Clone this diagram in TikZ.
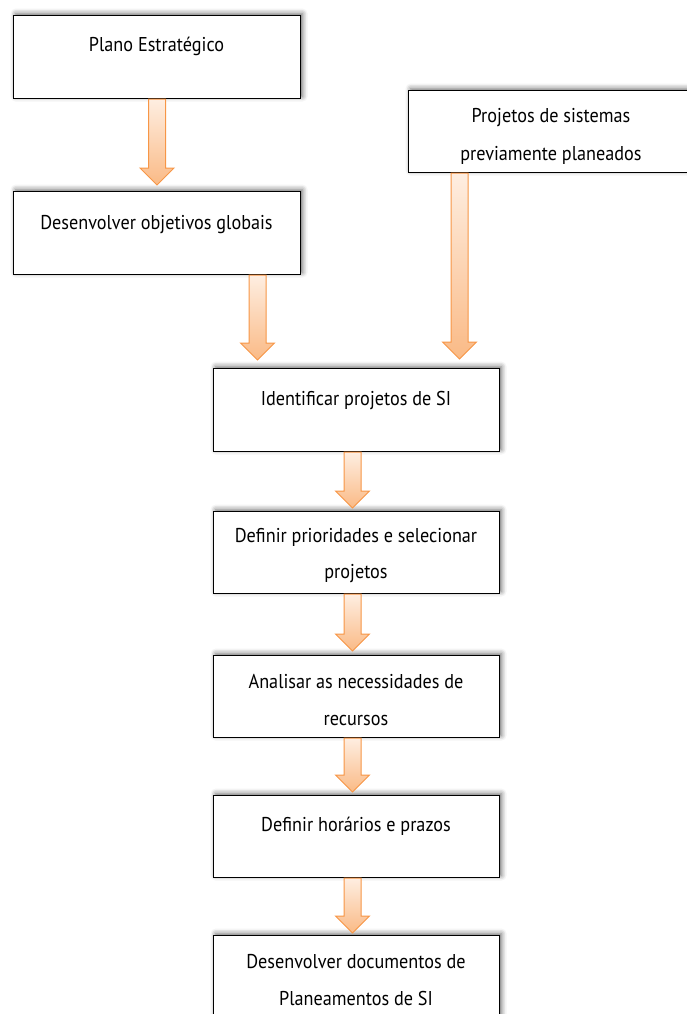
\documentclass[tikz,border=0pt]{standalone}
\usepackage{fontspec}
\setmainfont{PT Sans}[FakeStretch=0.91]
\usetikzlibrary{calc,shadows.blur}

\definecolor{arrowedge}{RGB}{247,150,70}
\definecolor{arrowtop}{RGB}{254,238,225}
\definecolor{arrowbot}{RGB}{250,186,134}

\tikzset{
  stage/.style={draw=black, line width=1.1pt, fill=white, anchor=north west,
    inner sep=0pt, minimum height=83pt,
    blur shadow={shadow xshift=2pt, shadow yshift=2pt,
      shadow blur radius=5pt, shadow opacity=60}},
  caption/.style={anchor=base, inner sep=0pt, font=\fontsize{20}{22}\selectfont},
  flow/.style={draw=arrowedge, line width=1pt, top color=arrowtop,
    bottom color=arrowbot, line join=miter},
}

% block arrow: #1 = x position, #2 = source node, #3 = target node, #4 = gap above target
\newcommand\flowarrow[4]{%
  \coordinate (fa-s) at (#1,0 |- #2.south);
  \coordinate (fa-n) at (#1,0 |- #3.north);
  \coordinate (fa-t) at ($(fa-n)+(0,#4)$);
  \path[flow] ($(fa-s)+(-8.5,0)$) -- ($(fa-s)+(8.5,0)$)
    -- ($(fa-t)+(8.5,17)$) -- ($(fa-t)+(17,17)$) -- (fa-t)
    -- ($(fa-t)+(-17,17)$) -- ($(fa-t)+(-8.5,17)$) -- cycle;
}

\begin{document}
\begin{tikzpicture}[x=1pt, y=1pt]
\useasboundingbox (0,0) rectangle (687,-1014);

% process boxes
\node[stage, minimum width=287pt] (b1) at (13,-15) {};
\node[stage, minimum width=282pt, minimum height=82pt] (b2) at (408,-90) {};
\node[stage, minimum width=287pt] (b3) at (13,-191) {};
\node[stage, minimum width=286pt] (b4) at (213,-368) {};
\node[stage, minimum width=286pt, minimum height=82pt] (b5) at (213,-511) {};
\node[stage, minimum width=286pt, minimum height=82pt] (b6) at (213,-655) {};
\node[stage, minimum width=286pt, minimum height=82pt] (b7) at (213,-795) {};
\node[stage, minimum width=286pt, minimum height=95pt] (b8) at (213,-935) {};

% captions
\node[caption] (t1) at (156.5,-52) {Plano Estratégico};
\node[caption] (t2a) at (551,-123) {Projetos de sistemas};
\node[caption] (t2b) at (551,-160) {previamente planeados};
\node[caption] (t3) at (156.5,-229) {Desenvolver objetivos globais};
\node[caption] (t4) at (356,-405) {Identificar projetos de SI};
\node[caption] (t5a) at (356,-542) {Definir prioridades e selecionar};
\node[caption] (t5b) at (356,-578) {projetos};
\node[caption] (t6a) at (356,-688) {Analisar as necessidades de};
\node[caption] (t6b) at (356,-725) {recursos};
\node[caption] (t7) at (356,-831) {Definir horários e prazos};
\node[caption] (t8a) at (356,-968) {Desenvolver documentos de};
\node[caption] (t8b) at (356,-1005) {Planeamentos de SI};

% flow arrows
\flowarrow{157}{b1}{b3}{6}
\flowarrow{257.5}{b3}{b4}{8}
\flowarrow{459.5}{b2}{b4}{9}
\flowarrow{352.5}{b4}{b5}{3}
\flowarrow{352.5}{b5}{b6}{4}
\flowarrow{352.5}{b6}{b7}{3}
\flowarrow{352.5}{b7}{b8}{2}
\end{tikzpicture}
\end{document}
